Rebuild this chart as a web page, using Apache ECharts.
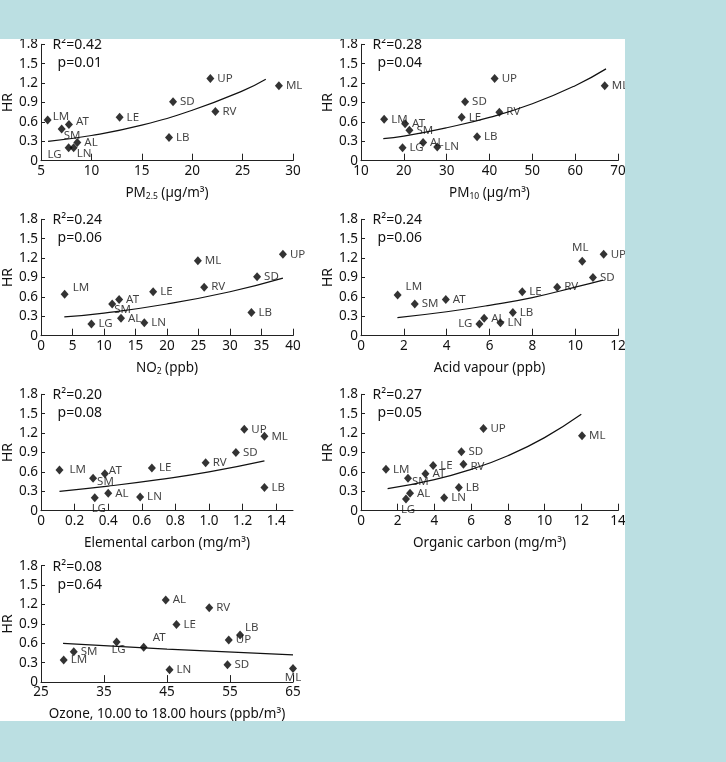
<!DOCTYPE html>
<html>
<head>
<meta charset="utf-8">
<script src="https://cdn.jsdelivr.net/npm/echarts@6/dist/echarts.min.js"></script>
<style>
  html, body { margin: 0; padding: 0; background: #bbdfe2; }
  #chart { position: absolute; left: 0; top: 39px; width: 625px; height: 682px; background: #fff; }
</style>
</head>
<body>
<div id="chart"></div>
<script>
// sites (same order in every panel)
const sites = ['LM', 'AT', 'SM', 'LG', 'LN', 'AL', 'LE', 'SD', 'LB', 'UP', 'RV', 'ML']

// PM2.5
const pm25X = [5.66, 7.77, 7.05, 7.74, 8.24, 8.6, 12.8, 18.1, 17.7, 21.8, 22.3, 28.6]
const pm25Hr = [0.63, 0.56, 0.49, 0.2, 0.2, 0.28, 0.67, 0.91, 0.36, 1.27, 0.76, 1.16]
const pm25Fit = [[5.7, 0.3], [10, 0.39], [15, 0.55], [20, 0.78], [25, 1.08], [27.3, 1.26]]

// PM10
const pm10X = [15.4, 20.3, 21.3, 19.7, 27.8, 24.5, 33.5, 34.3, 37.1, 41.2, 42.3, 66.9]
const pm10Hr = [0.64, 0.57, 0.47, 0.2, 0.21, 0.28, 0.67, 0.91, 0.37, 1.27, 0.75, 1.16]
const pm10Fit = [[15.2, 0.34], [20, 0.38], [30, 0.51], [40, 0.67], [50, 0.88], [60, 1.16], [67.2, 1.42]]

// NO2
const no2X = [3.75, 12.4, 11.3, 8.0, 16.4, 12.7, 17.8, 34.3, 33.4, 38.4, 25.9, 24.9]
const no2Hr = [0.64, 0.56, 0.49, 0.18, 0.2, 0.27, 0.68, 0.91, 0.36, 1.26, 0.75, 1.16]
const no2Fit = [[3.7, 0.29], [10, 0.35], [20, 0.49], [30, 0.68], [38.4, 0.89]]

// acid vapour
const acidX = [1.71, 3.96, 2.51, 5.53, 6.51, 5.75, 7.53, 10.83, 7.09, 11.33, 9.16, 10.33]
const acidHr = [0.63, 0.56, 0.49, 0.18, 0.2, 0.27, 0.68, 0.9, 0.36, 1.26, 0.75, 1.15]
const acidFit = [[1.7, 0.28], [4, 0.37], [6, 0.47], [8, 0.59], [10, 0.75], [11.3, 0.86]]

// elemental carbon
const ecX = [0.11, 0.38, 0.31, 0.32, 0.59, 0.4, 0.66, 1.16, 1.33, 1.21, 0.98, 1.33]
const ecHr = [0.63, 0.57, 0.5, 0.2, 0.21, 0.27, 0.66, 0.9, 0.36, 1.26, 0.74, 1.15]
const ecFit = [[0.11, 0.3], [0.4, 0.38], [0.7, 0.48], [1.0, 0.6], [1.33, 0.77]]

// organic carbon
const ocX = [1.36, 3.51, 2.56, 2.45, 4.53, 2.67, 3.93, 5.47, 5.33, 6.67, 5.58, 12.04]
const ocHr = [0.64, 0.57, 0.5, 0.18, 0.2, 0.27, 0.7, 0.91, 0.36, 1.27, 0.72, 1.16]
const ocFit = [[1.45, 0.34], [4, 0.48], [6, 0.64], [8, 0.85], [10, 1.13], [12, 1.49]]

// ozone
const ozX = [28.6, 41.3, 30.2, 37.0, 45.4, 44.8, 46.5, 54.6, 56.6, 54.8, 51.7, 65.0]
const ozHr = [0.34, 0.54, 0.47, 0.62, 0.19, 1.27, 0.89, 0.27, 0.73, 0.65, 1.15, 0.21]
const ozFit = [[28.5, 0.6], [45, 0.51], [65, 0.42]]

// statistics
const r2Values = ['0.42', '0.28', '0.24', '0.24', '0.20', '0.27', '0.08']
const pValues = ['0.01', '0.04', '0.06', '0.06', '0.08', '0.05', '0.64']

// axis ticks
const hrTicks = [0, 0.3, 0.6, 0.9, 1.2, 1.5, 1.8]
const pm25Ticks = [5, 10, 15, 20, 25, 30]
const pm10Ticks = [10, 20, 30, 40, 50, 60, 70]
const no2Ticks = [0, 5, 10, 15, 20, 25, 30, 35, 40]
const acidTicks = [0, 2, 4, 6, 8, 10, 12]
const ecTicks = [0, 0.2, 0.4, 0.6, 0.8, 1.0, 1.2, 1.4]
const ocTicks = [0, 2, 4, 6, 8, 10, 12, 14]
const ozTicks = [25, 35, 45, 55, 65]

const FONT = 'Noto Sans'
const TXT = '#111'
const AX = '#222'

// label placement per panel: [position, dx, dy]
const placePm25 = { LM: ['right', -2, -3], AT: ['right', 0, -3], SM: ['right', -5, 7], LG: ['left', 0, 7], LN: ['right', -4, 6] }
const placePm10 = {}
const placeNo2 = { LM: ['right', 1, -7], SM: ['right', -5, 6] }
const placeAcid = { LM: ['right', 1, -8], LG: ['left', 0, 0], ML: ['top', -2, 0] }
const placeEc = { LM: ['right', 3, 0], SM: ['right', -3, 3], AT: ['right', -3, -3], LG: ['bottom', 4, -3] }
const placeOc = { SM: ['right', -3, 3], LG: ['bottom', 2, -3], RV: ['right', 0, 3] }
const placeOz = { AT: ['right', 2, -9], LG: ['bottom', 2, -6], LB: ['right', -2, -7], ML: ['bottom', 0, -4] }

const cols = [{ left: 41, width: 252 }, { left: 361, width: 257 }]
const rows = [5.3, 180.3, 355.3, 526.7]
const gridH = 116.4

const panels = [
  { x: pm25X, y: pm25Hr, fit: pm25Fit, ticks: pm25Ticks, min: 5, max: 30, name: 'PM{s|2.5} (µg/m³)', place: placePm25 },
  { x: pm10X, y: pm10Hr, fit: pm10Fit, ticks: pm10Ticks, min: 10, max: 70, name: 'PM{s|10} (µg/m³)', place: placePm10 },
  { x: no2X, y: no2Hr, fit: no2Fit, ticks: no2Ticks, min: 0, max: 40, name: 'NO{s|2} (ppb)', place: placeNo2 },
  { x: acidX, y: acidHr, fit: acidFit, ticks: acidTicks, min: 0, max: 12, name: 'Acid vapour (ppb)', place: placeAcid },
  { x: ecX, y: ecHr, fit: ecFit, ticks: ecTicks, min: 0, max: 1.5, name: 'Elemental carbon (mg/m³)', place: placeEc, dec: 1 },
  { x: ocX, y: ocHr, fit: ocFit, ticks: ocTicks, min: 0, max: 14, name: 'Organic carbon (mg/m³)', place: placeOc },
  { x: ozX, y: ozHr, fit: ozFit, ticks: ozTicks, min: 25, max: 65, name: 'Ozone, 10.00 to 18.00 hours (ppb/m³)', place: placeOz }
]

function pointLabel(p) {
  const [pos, dx, dy] = p || ['right', 0, 0]
  return {
    show: true,
    position: pos,
    distance: 3,
    offset: [dx, dy],
    formatter: '{b}',
    fontSize: 11.5,
    fontFamily: FONT,
    color: TXT
  }
}

const grid = []
const xAxis = []
const yAxis = []
const series = []
const graphic = []

panels.forEach((pn, i) => {
  const col = cols[i % 2]
  const top = rows[Math.floor(i / 2)]
  grid.push({ left: col.left, top: top, width: col.width, height: gridH, outerBoundsMode: 'none' })

  xAxis.push({
    gridIndex: i,
    type: 'value',
    min: pn.min,
    max: pn.max,
    name: pn.name,
    nameLocation: 'middle',
    nameGap: 25,
    nameTextStyle: {
      fontSize: 13.5,
      fontFamily: FONT,
      color: TXT,
      rich: { s: { fontSize: 8.5, fontFamily: FONT, color: TXT, verticalAlign: 'bottom', padding: [6, 0, 0, 0] } }
    },
    splitLine: { show: false },
    axisLine: { lineStyle: { color: AX, width: 1 } },
    axisTick: { inside: true, length: 7, lineStyle: { color: AX }, customValues: pn.ticks.slice(1) },
    axisLabel: {
      customValues: pn.ticks,
      margin: 3,
      fontSize: 13.5,
      fontFamily: FONT,
      color: TXT,
      formatter: v => (pn.dec && v !== 0 ? v.toFixed(pn.dec) : String(v))
    }
  })

  yAxis.push({
    gridIndex: i,
    type: 'value',
    min: 0,
    max: 1.8,
    interval: 0.3,
    name: 'HR',
    nameLocation: 'middle',
    nameGap: 26,
    nameTextStyle: { fontSize: 14, fontFamily: FONT, color: TXT },
    splitLine: { show: false },
    axisLine: { show: true, lineStyle: { color: AX, width: 1 } },
    axisTick: { inside: true, length: 4, lineStyle: { color: AX }, customValues: hrTicks.slice(1) },
    axisLabel: {
      customValues: hrTicks,
      margin: 3,
      fontSize: 13.5,
      fontFamily: FONT,
      color: TXT,
      formatter: v => (v === 0 ? '0' : v.toFixed(1))
    }
  })

  series.push({
    type: 'line',
    xAxisIndex: i,
    yAxisIndex: i,
    data: pn.fit,
    smooth: true,
    showSymbol: false,
    lineStyle: { color: '#111', width: 1.2 },
    silent: true
  })

  series.push({
    type: 'scatter',
    xAxisIndex: i,
    yAxisIndex: i,
    symbol: 'diamond',
    symbolSize: [8, 9],
    itemStyle: { color: '#000' },
    data: sites.map((s, k) => ({ name: s, value: [pn.x[k], pn.y[k]], label: pointLabel(pn.place[s]) }))
  })

  graphic.push({
    type: 'text',
    x: col.left + 61,
    y: top + 1,
    style: { text: 'R²=' + r2Values[i], fontSize: 14, fontFamily: FONT, fill: TXT, align: 'right', verticalAlign: 'middle' }
  })
  graphic.push({
    type: 'text',
    x: col.left + 61,
    y: top + 19,
    style: { text: 'p=' + pValues[i], fontSize: 14, fontFamily: FONT, fill: TXT, align: 'right', verticalAlign: 'middle' }
  })
})

const chart = echarts.init(document.getElementById('chart'))
chart.setOption({
  backgroundColor: '#fff',
  animation: false,
  grid,
  xAxis,
  yAxis,
  series,
  graphic
})
</script>
</body>
</html>
